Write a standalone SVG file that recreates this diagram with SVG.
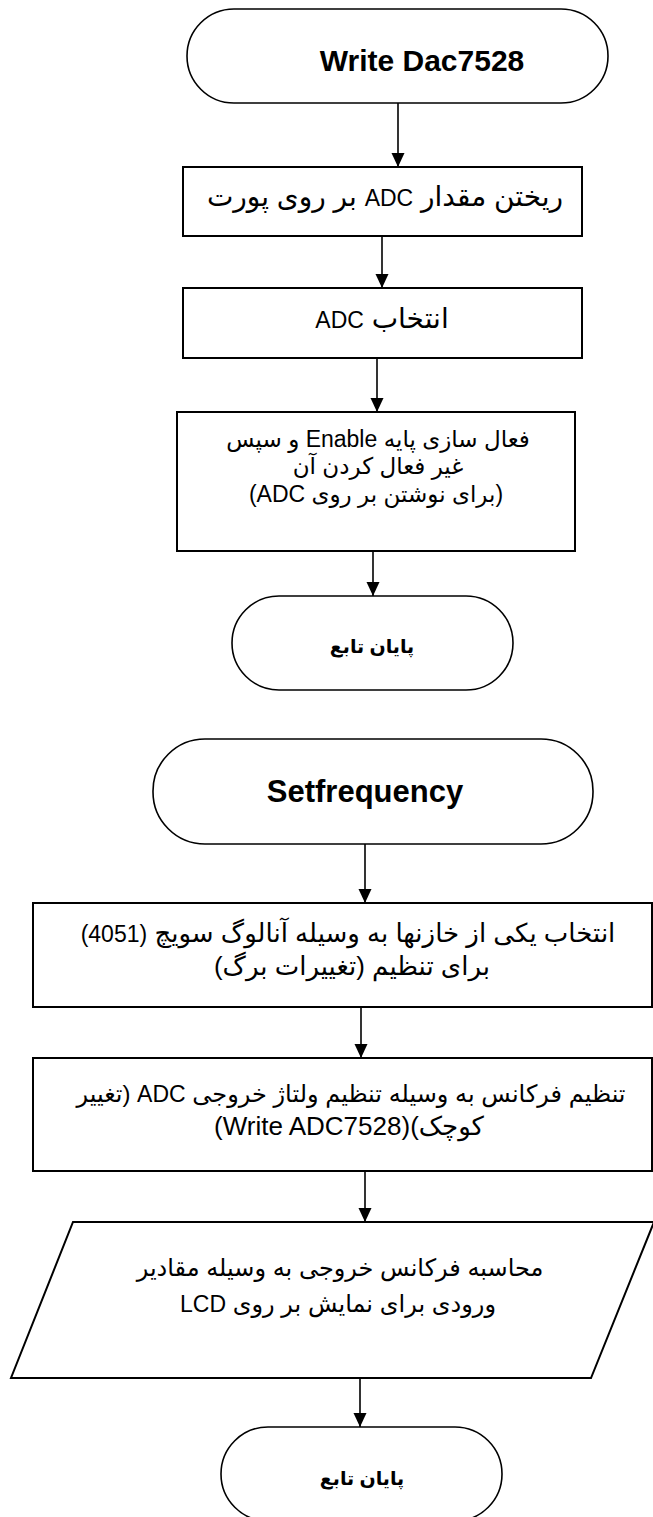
<svg xmlns="http://www.w3.org/2000/svg" width="653" height="1517" viewBox="0 0 653 1517">
<defs>
<marker id="ah" markerUnits="userSpaceOnUse" markerWidth="14" markerHeight="14" refX="14" refY="6.5" orient="auto">
<path d="M0,0 L14,6.5 L0,13 z" fill="#000"/>
</marker>
<style>
.box{fill:#fff;stroke:#000;stroke-width:2}
.term{fill:#fff;stroke:#000;stroke-width:1.6}
.t{font-family:"Liberation Sans","DejaVu Sans",sans-serif;fill:#000;text-anchor:middle;direction:rtl;unicode-bidi:embed}
.tb{font-family:"Liberation Sans","DejaVu Sans",sans-serif;font-weight:bold;fill:#000;text-anchor:middle}
.fa{direction:rtl;unicode-bidi:embed}
.l{font-size:23px}
.c{fill:none;stroke:#000;stroke-width:1.6;marker-end:url(#ah)}
</style>
</defs>
<rect width="653" height="1517" fill="#fff"/>
<g id="connectors">
<line class="c" x1="398" y1="103" x2="398" y2="167"/>
<line class="c" x1="382" y1="236" x2="382" y2="288"/>
<line class="c" x1="377" y1="358" x2="377" y2="412"/>
<line class="c" x1="373" y1="551" x2="373" y2="596"/>
<line class="c" x1="365" y1="844" x2="365" y2="903"/>
<line class="c" x1="361" y1="1007" x2="361" y2="1058"/>
<line class="c" x1="365" y1="1171" x2="365" y2="1222"/>
<line class="c" x1="360" y1="1378" x2="360" y2="1427"/>
</g>
<g id="start1">
<rect class="term" x="187" y="9" width="421" height="94" rx="47"/>
<text class="tb" x="422" y="71" font-size="30">Write Dac7528</text>
</g>
<g id="box1">
<rect class="box" x="183" y="167" width="399" height="69"/>
<text class="t" x="385" y="206" font-size="28">ریختن مقدار <tspan class="l">ADC</tspan> بر روی پورت</text>
</g>
<g id="box2">
<rect class="box" x="183" y="288" width="399" height="70"/>
<text class="t" x="382" y="328" font-size="28">انتخاب <tspan class="l">ADC</tspan></text>
</g>
<g id="box3">
<rect class="box" x="177" y="412" width="398" height="139"/>
<text class="t" x="378" y="447" font-size="23">فعال سازی پایه  <tspan class="l">Enable</tspan> و سپس</text>
<text class="t" x="378" y="474" font-size="23">غیر فعال کردن آن</text>
<text class="t" x="376" y="502" font-size="23">(برای نوشتن بر روی <tspan class="l">ADC</tspan>)</text>
</g>
<g id="end1">
<rect class="term" x="232" y="596" width="281" height="94" rx="47"/>
<text class="tb fa" x="372" y="653" font-size="19">پایان تابع</text>
</g>
<g id="start2">
<rect class="term" x="153" y="739" width="440" height="105" rx="52"/>
<text class="tb" x="365" y="802" font-size="31">Setfrequency</text>
</g>
<g id="box4">
<rect class="box" x="33" y="903" width="619" height="104"/>
<text class="t" x="348" y="942" font-size="26">انتخاب یکی از خازنها به وسیله آنالوگ سویچ <tspan class="l">(4051)</tspan></text>
<text class="t" x="352" y="975" font-size="26">برای تنظیم (تغییرات برگ)</text>
</g>
<g id="box5">
<rect class="box" x="33" y="1058" width="619" height="113"/>
<text class="t" x="351" y="1102" font-size="24">تنظیم فرکانس به وسیله تنظیم ولتاژ خروجی <tspan class="l">ADC</tspan> (تغییر</text>
<text class="t" x="349" y="1135" font-size="26">کوچک)<tspan style="font-size:26px">(Write ADC7528)</tspan></text>
</g>
<g id="io1">
<polygon class="box" points="73,1222 654,1222 591,1378 11,1378"/>
<text class="t" x="340" y="1276" font-size="24">محاسبه فرکانس خروجی به وسیله مقادیر</text>
<text class="t" x="338" y="1312" font-size="24">ورودی برای نمایش بر روی <tspan class="l">LCD</tspan></text>
</g>
<g id="end2">
<rect class="term" x="221" y="1427" width="281" height="94" rx="47"/>
<text class="tb fa" x="362" y="1485" font-size="19">پایان تابع</text>
</g>
</svg>
